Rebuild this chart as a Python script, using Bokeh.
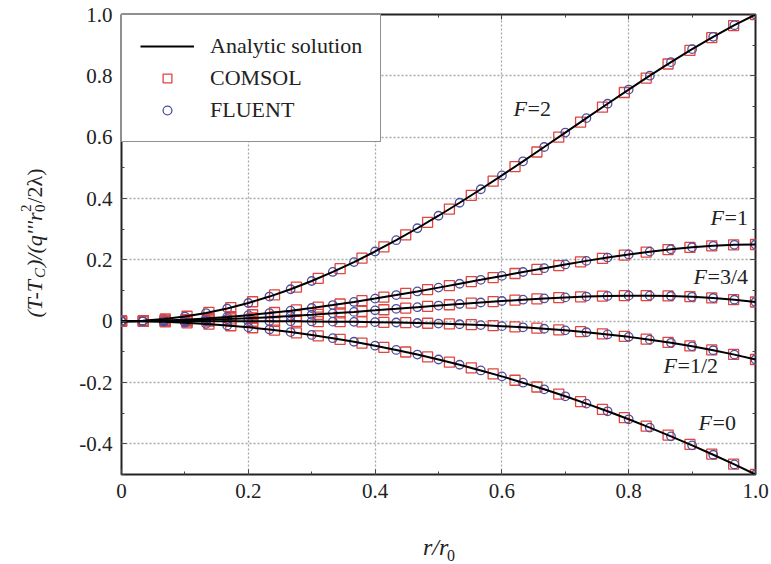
from bokeh.plotting import figure
from bokeh.models import FixedTicker, LinearAxis, Legend, LegendItem, Label
from bokeh.layouts import row, column
from bokeh.embed import file_html
from bokeh.resources import INLINE

# ---------------- data ----------------
# FLUENT sample positions (also used for the analytic curve)
r_fluent = [0, .0333, .0667, .1, .1333, .1667, .2, .2333, .2667, .3, .3333, .3667,
            .4, .4333, .4667, .5, .5333, .5667, .6, .6333, .6667, .7, .7333, .7667,
            .8, .8333, .8667, .9, .9333, .9667, 1.0]
# COMSOL sample positions
r_comsol = [0, .0345, .0690, .1034, .1379, .1724, .2069, .2414, .2759, .3103, .3448,
            .3793, .4138, .4483, .4828, .5172, .5517, .5862, .6207, .6552, .6897,
            .7241, .7586, .7931, .8276, .8621, .8966, .9310, .9655, 1.0]

fluent_F2 = [0, .0017, .0067, .0150, .0265, .0413, .0592, .0802, .1041, .1310, .1605,
             .1926, .2272, .2640, .3030, .3438, .3862, .4301, .4752, .5212, .5679,
             .6150, .6621, .7089, .7552, .8005, .8446, .8870, .9272, .9651, 1.0]
fluent_F1 = [0, .0006, .0022, .0050, .0088, .0137, .0196, .0265, .0343, .0430, .0525,
             .0627, .0736, .0851, .0970, .1094, .1220, .1348, .1476, .1603, .1728,
             .1850, .1966, .2075, .2176, .2267, .2345, .2410, .2458, .2489, .25]
fluent_F34 = [0, .0003, .0011, .0025, .0044, .0068, .0097, .0131, .0168, .0210, .0255,
              .0302, .0352, .0403, .0456, .0508, .0559, .0609, .0657, .0701, .0741,
              .0775, .0802, .0822, .0832, .0832, .0820, .0795, .0755, .0699, .0625]
fluent_F12 = [0, 0, 0, 0, 0, -.0001, -.0002, -.0004, -.0006, -.0010, -.0015,
              -.0023, -.0032, -.0044, -.0059, -.0078, -.0101, -.0129, -.0162, -.0201,
              -.0247, -.0300, -.0362, -.0432, -.0512, -.0603, -.0705, -.0820, -.0949,
              -.1091, -.125]
fluent_F0 = [0, -.0006, -.0022, -.0050, -.0089, -.0139, -.0200, -.0272, -.0356, -.0450,
             -.0556, -.0672, -.0800, -.0939, -.1089, -.1250, -.1422, -.1606, -.1800,
             -.2006, -.2222, -.2450, -.2689, -.2939, -.3200, -.3472, -.3756, -.4050,
             -.4356, -.4672, -.5]

comsol_F2 = [0, .0018, .0071, .0160, .0284, .0442, .0633, .0857, .1113, .1398, .1713,
             .2055, .2422, .2812, .3224, .3655, .4103, .4564, .5037, .5517, .6003,
             .6491, .6977, .7457, .7928, .8386, .8827, .9245, .9638, 1.0]
comsol_F1 = [0, .0006, .0024, .0053, .0094, .0146, .0209, .0283, .0366, .0458, .0559,
             .0668, .0783, .0904, .1029, .1159, .1290, .1423, .1555, .1686, .1813,
             .1934, .2049, .2156, .2252, .2335, .2404, .2456, .2489, .25]
comsol_F34 = [0, .0003, .0012, .0027, .0047, .0073, .0104, .0139, .0179, .0223, .0271,
              .0321, .0373, .0427, .0481, .0535, .0587, .0638, .0685, .0728, .0765,
              .0795, .0818, .0831, .0833, .0822, .0798, .0758, .0701, .0625]
comsol_F12 = [0, 0, 0, 0, 0, -.0001, -.0002, -.0004, -.0007, -.0012, -.0018, -.0026,
              -.0037, -.0050, -.0068, -.0089, -.0116, -.0148, -.0186, -.0230, -.0283,
              -.0344, -.0414, -.0495, -.0586, -.0690, -.0808, -.0939, -.1086, -.125]
comsol_F0 = [0, -.0006, -.0024, -.0054, -.0095, -.0149, -.0214, -.0291, -.0381, -.0482,
             -.0595, -.0719, -.0856, -.1005, -.1165, -.1338, -.1522, -.1718, -.1926,
             -.2146, -.2378, -.2622, -.2878, -.3145, -.3424, -.3716, -.4019, -.4334,
             -.4661, -.5]

curve_names = ["2", "1", "3/4", "1/2", "0"]
fluent_series = [fluent_F2, fluent_F1, fluent_F34, fluent_F12, fluent_F0]
comsol_series = [comsol_F2, comsol_F1, comsol_F34, comsol_F12, comsol_F0]

x_ticks = [0, 0.2, 0.4, 0.6, 0.8, 1.0]
x_tick_labels = ["0", "0.2", "0.4", "0.6", "0.8", "1.0"]
x_minor = [0.1, 0.3, 0.5, 0.7, 0.9]
y_ticks = [-0.4, -0.2, 0, 0.2, 0.4, 0.6, 0.8, 1.0]
y_tick_labels = ["-0.4", "-0.2", "0", "0.2", "0.4", "0.6", "0.8", "1.0"]
y_minor = [-0.5, -0.3, -0.1, 0.1, 0.3, 0.5, 0.7, 0.9]

# ---------------- styling constants ----------------
FONT = "Liberation Serif"
RED = "#e0453f"
BLUE = "#4f4fa0"
INK = "#222222"
LEFT_W = 60      # width of the y-title panel
BOTTOM_H = 50    # height of the x-title panel

# ---------------- main figure ----------------
p = figure(width=771 - LEFT_W, height=564 - BOTTOM_H, x_range=(0, 1), y_range=(-0.5, 1.0),
           output_backend="svg", toolbar_location=None,
           min_border_left=121 - LEFT_W, min_border_right=16, min_border_top=14,
           min_border_bottom=90 - BOTTOM_H)
p.background_fill_color = "white"
p.border_fill_color = "white"
p.outline_line_color = INK
p.outline_line_width = 2

def style_axis(ax, ticks, minor, labels, standoff):
    ax.ticker = FixedTicker(ticks=ticks, minor_ticks=minor)
    ax.major_label_overrides = {t: l for t, l in zip(ticks, labels)}
    ax.major_label_text_font = FONT
    ax.major_label_text_font_size = "21px"
    ax.major_label_text_color = INK
    ax.major_label_standoff = standoff
    ax.axis_line_color = None
    ax.major_tick_in = 5
    ax.major_tick_out = 0
    ax.minor_tick_in = 3
    ax.minor_tick_out = 0
    ax.major_tick_line_color = "#444444"
    ax.minor_tick_line_color = "#444444"

style_axis(p.xaxis[0], x_ticks, x_minor, x_tick_labels, 9)
style_axis(p.yaxis[0], y_ticks, y_minor, y_tick_labels, 9)

top_ax = LinearAxis()
right_ax = LinearAxis()
style_axis(top_ax, x_ticks, x_minor, [""] * len(x_ticks), 0)
style_axis(right_ax, y_ticks, y_minor, [""] * len(y_ticks), 0)
top_ax.major_label_text_font_size = "1px"
right_ax.major_label_text_font_size = "1px"
p.add_layout(top_ax, "above")
p.add_layout(right_ax, "right")

p.xgrid.ticker = FixedTicker(ticks=[0.2, 0.4, 0.6, 0.8])
p.ygrid.ticker = FixedTicker(ticks=[-0.4, -0.2, 0, 0.2, 0.4, 0.6, 0.8])
for g in (p.xgrid, p.ygrid):
    g.grid_line_color = "#a8a8a8"
    g.grid_line_width = 1.3
    g.grid_line_dash = "2 2"

sq_r = ci_r = ln_r = None
for fl, co in zip(fluent_series, comsol_series):
    s = p.scatter(r_comsol, co, marker="square", size=10, fill_color=None,
                  line_color=RED, line_width=1.3)
    c = p.scatter(r_fluent, fl, marker="circle", size=8.5, fill_color=None,
                  line_color=BLUE, line_width=1.3)
    sq_r = sq_r or s
    ci_r = ci_r or c
for fl in fluent_series:
    l = p.line(r_fluent, fl, line_color="black", line_width=2)
    ln_r = ln_r or l

legend = Legend(items=[LegendItem(label="Analytic solution", renderers=[ln_r]),
                       LegendItem(label="COMSOL", renderers=[sq_r]),
                       LegendItem(label="FLUENT", renderers=[ci_r])],
                location="top_left")
legend.margin = 0
legend.padding = 18
legend.spacing = 6
legend.glyph_width = 54
legend.glyph_height = 22
legend.label_height = 22
legend.label_standoff = 16
legend.label_text_font = FONT
legend.label_text_font_size = "22px"
legend.label_text_color = INK
legend.border_line_color = INK
legend.border_line_width = 1.6
legend.background_fill_color = "white"
legend.background_fill_alpha = 1.0
p.add_layout(legend, "center")

# F labels (italic F followed by roman "=value")
f_label_pos = [(0.6183, 0.6511), (0.929, 0.2957), (0.9022, 0.1065),
               (0.8549, -0.1837), (0.9101, -0.3728)]
for name, (lx, ly) in zip(curve_names, f_label_pos):
    p.add_layout(Label(x=lx, y=ly, text="F", text_font=FONT, text_font_style="italic",
                       text_font_size="22px", text_color=INK))
    p.add_layout(Label(x=lx, y=ly, x_offset=14, text="=" + name, text_font=FONT,
                       text_font_size="22px", text_color=INK))

def blank_panel(w, h):
    f = figure(width=w, height=h, x_range=(0, w), y_range=(0, h),
               output_backend="svg", toolbar_location=None,
               x_axis_type=None, y_axis_type=None,
               min_border_left=0, min_border_right=0, min_border_top=0,
               min_border_bottom=0)
    f.outline_line_color = None
    f.grid.visible = False
    f.background_fill_color = "white"
    f.border_fill_color = "white"
    return f

# ---------------- y-axis title panel (rotated, composed pieces) ----------------
q = blank_panel(LEFT_W, 564)
ANG = 1.5708
# (text, baseline x px, start y px from bottom, size, style)
ylab_parts = [
    ("(T-T", 34, 247, "22px", "italic"),
    ("C", 39, 286.5, "15px", "italic"),
    (")/(q'''r", 34, 297.5, "22px", "italic"),
    ("0", 39, 352.5, "15px", "normal"),
    ("2", 25, 352.5, "15px", "normal"),
    ("/2\u03bb)", 34, 361, "22px", "normal"),
]
for txt, tx, ty, fs, st in ylab_parts:
    q.add_layout(Label(x=tx, y=ty, text=txt, angle=ANG, text_font=FONT,
                       text_font_size=fs, text_font_style=st, text_color=INK,
                       text_align="left", text_baseline="alphabetic"))

# ---------------- x-axis title panel ----------------
xb = blank_panel(771 - LEFT_W, BOTTOM_H)
xb.add_layout(Label(x=398 - LEFT_W, y=BOTTOM_H - 32, text="r/r", text_font=FONT,
                    text_font_style="italic", text_font_size="24px", text_color=INK,
                    text_align="left", text_baseline="alphabetic"))
xb.add_layout(Label(x=425 - LEFT_W, y=BOTTOM_H - 41, text="0", text_font=FONT,
                    text_font_size="16px", text_color=INK,
                    text_align="left", text_baseline="alphabetic"))

layout = row(q, column(p, xb, spacing=0), spacing=0)
open("out.html", "w").write(file_html(layout, INLINE))
